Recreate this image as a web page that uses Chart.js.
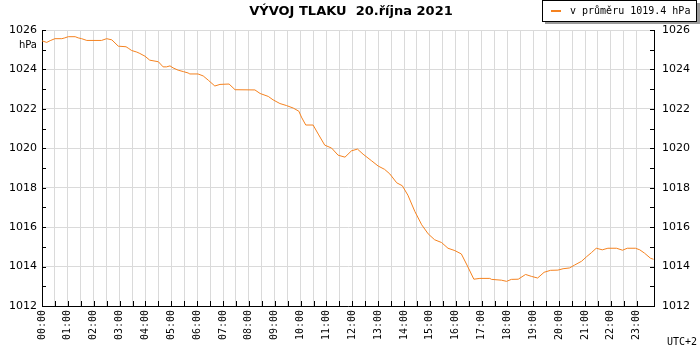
<!DOCTYPE html>
<html>
<head>
<meta charset="utf-8">
<script src="https://cdn.jsdelivr.net/npm/chart.js@4/dist/chart.umd.min.js"></script>
<style>
  html, body { margin: 0; padding: 0; background: #fff; }
</style>
</head>
<body>
<canvas id="pressure-chart" width="700" height="350"></canvas>
<script>
// minutes after midnight
const minutes = [0,11,19,30,46,53,61,77,84,92,
  104,138,150,162,177,195,200,208,220,227,
  239,250,270,281,289,297,304,316,328,339,
  343,362,374,386,401,413,434,448,494,506,
  525,536,552,567,583,596,602,612,629,641,
  656,672,687,703,718,732,745,765,780,795,
  807,823,836,849,865,881,896,911,927,942,
  958,973,986,1002,1016,1039,1043,1066,1078,1089,
  1105,1122,1136,1150,1165,1180,1197,1209,1224,1236,
  1252,1263,1275,1286,1300,1313,1333,1347,1358,1377,
  1387,1398,1412,1419];

// pressure in hPa
const pressure = [1025.45,1025.37,1025.46,1025.56,1025.56,1025.60,1025.66,1025.66,1025.60,1025.56,
  1025.47,1025.47,1025.56,1025.50,1025.18,1025.15,1025.08,1024.96,1024.88,1024.81,
  1024.67,1024.47,1024.39,1024.13,1024.13,1024.18,1024.08,1023.96,1023.89,1023.82,
  1023.77,1023.77,1023.67,1023.45,1023.16,1023.24,1023.26,1022.97,1022.96,1022.78,
  1022.63,1022.46,1022.27,1022.17,1022.04,1021.88,1021.58,1021.18,1021.18,1020.72,
  1020.16,1020.01,1019.65,1019.55,1019.87,1019.96,1019.70,1019.36,1019.10,1018.93,
  1018.70,1018.25,1018.10,1017.62,1016.80,1016.12,1015.66,1015.36,1015.22,1014.93,
  1014.81,1014.64,1014.08,1013.36,1013.40,1013.40,1013.35,1013.31,1013.25,1013.35,
  1013.36,1013.60,1013.50,1013.42,1013.71,1013.81,1013.82,1013.89,1013.93,1014.08,
  1014.27,1014.49,1014.71,1014.93,1014.85,1014.93,1014.93,1014.83,1014.93,1014.93,
  1014.85,1014.68,1014.42,1014.37];

const average = 1019.4;
const yMin = 1012, yMax = 1026;
const xMax = 1420;
const title = 'VÝVOJ TLAKU  20.října 2021';
const legendLabel = 'v průměru ' + average.toFixed(1) + ' hPa';
const unitLabel = 'hPa';
const zoneLabel = 'UTC+2';

const lineColor = '#f5821f';
const gridColor = '#dadada';

function hhmm(m) {
    const h = Math.floor(m / 60);
    return String(h).padStart(2, '0') + ':00';
}

function yLabel(value) {
    return value % 2 === 0 ? String(value) : '';
}

function yGrid(c) {
    return c.tick && c.tick.value % 2 === 0 ? gridColor : 'rgba(0,0,0,0)';
}

// inward ticks, title, legend box and small labels
const decorations = {
    id: 'decorations',
    afterDraw(chart) {
        const { ctx, chartArea: a, scales } = chart;
        ctx.save();
        ctx.strokeStyle = '#000';
        ctx.lineWidth = 1;
        ctx.beginPath();
        scales.y.ticks.forEach(t => {
            const py = Math.round(scales.y.getPixelForValue(t.value)) + 0.5;
            ctx.moveTo(a.left, py); ctx.lineTo(a.left + 4, py);
            ctx.moveTo(a.right, py); ctx.lineTo(a.right - 4, py);
        });
        scales.x.ticks.forEach(t => {
            const px = Math.round(scales.x.getPixelForValue(t.value)) + 0.5;
            ctx.moveTo(px, a.bottom); ctx.lineTo(px, a.bottom - 5);
        });
        ctx.stroke();

        ctx.fillStyle = '#000';
        ctx.textBaseline = 'middle';
        ctx.textAlign = 'center';
        ctx.font = 'bold 13px "DejaVu Sans"';
        ctx.fillText(title, 351, 12);

        ctx.textAlign = 'right';
        ctx.font = '10px "DejaVu Sans"';
        ctx.fillText(unitLabel, 37, 45);
        ctx.font = '10px "DejaVu Sans Mono"';
        ctx.fillText(zoneLabel, 697, 342);

        // legend box with shadow
        ctx.fillStyle = '#9a9a9a';
        ctx.fillRect(545, 3, 155, 21);
        ctx.fillStyle = '#fff';
        ctx.fillRect(543, 0, 154, 22);
        ctx.strokeStyle = '#000';
        ctx.strokeRect(542.5, 0.5, 154, 21);
        ctx.strokeStyle = lineColor;
        ctx.lineWidth = 2;
        ctx.beginPath();
        ctx.moveTo(551, 11); ctx.lineTo(561, 11);
        ctx.stroke();
        ctx.fillStyle = '#000';
        ctx.textAlign = 'left';
        ctx.font = '10px "DejaVu Sans Mono"';
        ctx.fillText(legendLabel, 570, 11);
        ctx.restore();
    }
};

new Chart(document.querySelector('#pressure-chart').getContext('2d'), {
    type: 'line',
    data: {
        datasets: [{
            label: legendLabel,
            data: minutes.map((m, i) => ({ x: m, y: pressure[i] })),
            borderColor: lineColor,
            backgroundColor: lineColor,
            borderWidth: 1,
            pointRadius: 0,
            tension: 0
        }]
    },
    options: {
        responsive: false,
        animation: false,
        layout: { padding: { top: 30, left: 0, right: 0, bottom: 0 } },
        plugins: { legend: { display: false }, title: { display: false }, tooltip: { enabled: false } },
        scales: {
            x: {
                type: 'linear',
                min: 0,
                max: xMax,
                afterFit: s => { s.height = 44; },
                border: { display: true, color: '#000' },
                grid: { color: gridColor, drawTicks: false },
                ticks: {
                    stepSize: 30,
                    autoSkip: false,
                    minRotation: 90,
                    maxRotation: 90,
                    padding: 4,
                    color: '#000',
                    font: { family: 'DejaVu Sans Mono', size: 10 },
                    callback: v => (v % 60 === 0 && v < xMax) ? hhmm(v) : ''
                }
            },
            y: {
                position: 'left',
                min: yMin,
                max: yMax,
                afterFit: s => { s.width = 42; },
                border: { display: true, color: '#000' },
                grid: { color: yGrid, drawTicks: false },
                ticks: {
                    stepSize: 1,
                    autoSkip: false,
                    padding: 5,
                    color: '#000',
                    font: { family: 'DejaVu Sans', size: 11 },
                    callback: yLabel
                }
            },
            y2: {
                position: 'right',
                min: yMin,
                max: yMax,
                afterFit: s => { s.width = 46; },
                border: { display: true, color: '#000' },
                grid: { display: false, drawTicks: false },
                ticks: {
                    stepSize: 1,
                    autoSkip: false,
                    padding: 8,
                    color: '#000',
                    font: { family: 'DejaVu Sans', size: 11 },
                    callback: yLabel
                }
            }
        }
    },
    plugins: [decorations]
});
</script>
</body>
</html>
